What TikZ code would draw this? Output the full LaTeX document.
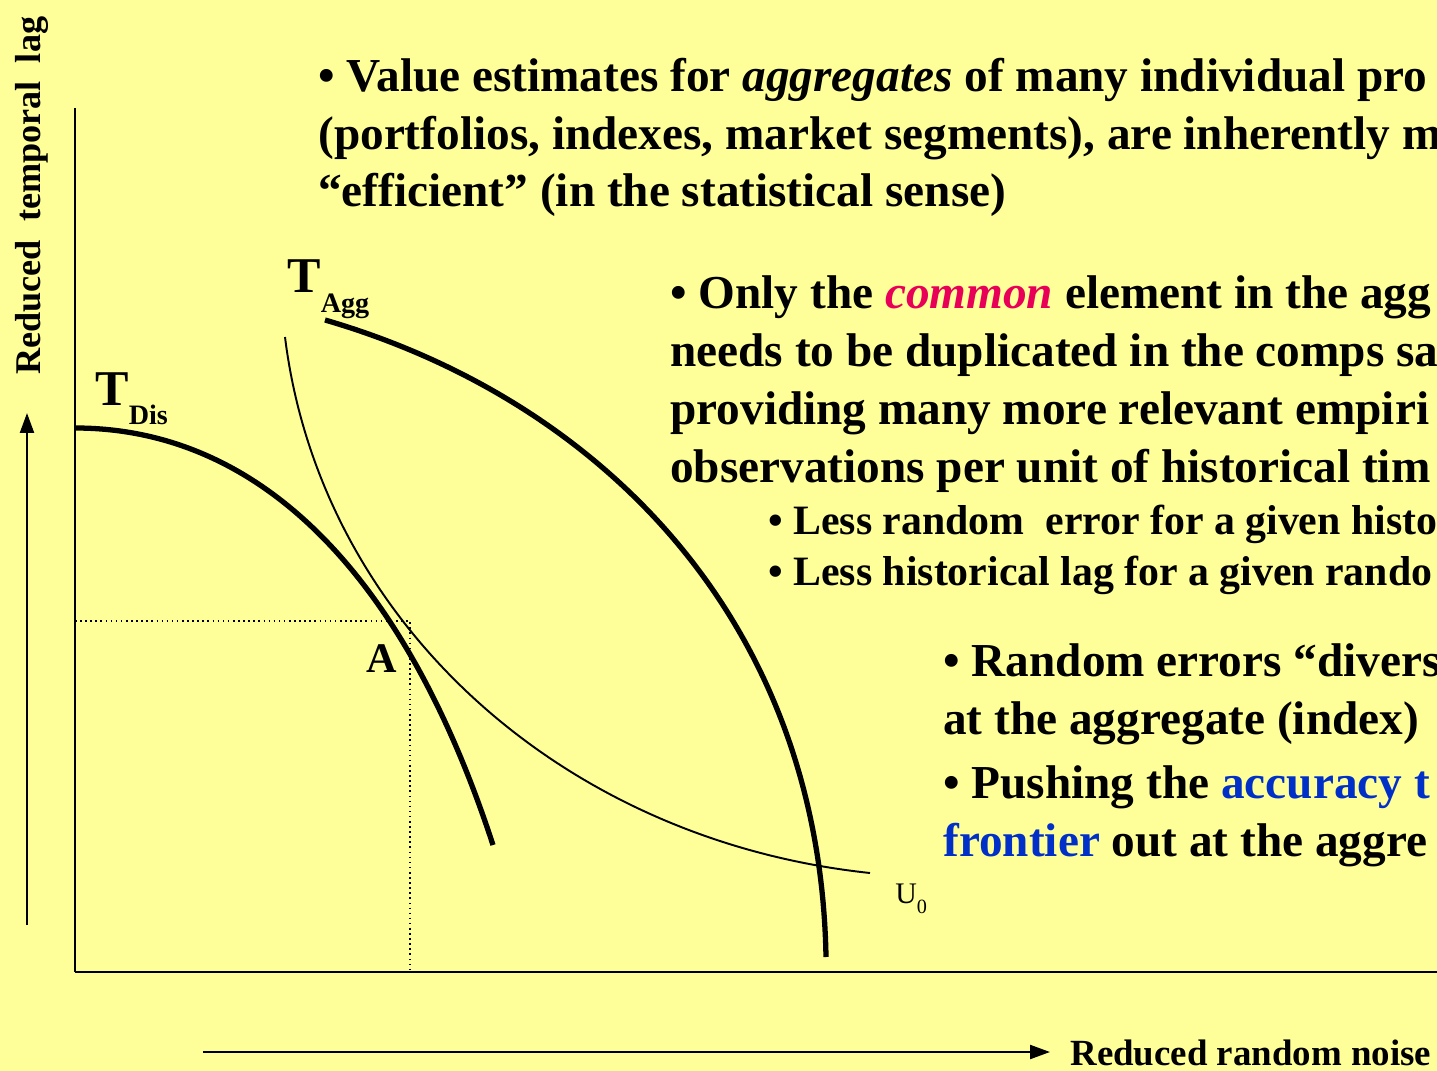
\documentclass[tikz,border=0pt]{standalone}
\usepackage{fontspec}
\setmainfont{Liberation Serif}
\usetikzlibrary{arrows.meta,positioning}
\definecolor{slideyellow}{RGB}{255,255,153}
\definecolor{slidepink}{RGB}{232,0,88}
\definecolor{slideblue}{RGB}{0,48,200}

\begin{document}
\begin{tikzpicture}[
      x=0.02cm, y=-0.02cm,
      bigtext/.style={anchor=base west, inner sep=0pt, align=left, font=\bfseries\fontsize{26.9pt}{33pt}\selectfont},
      subtext/.style={anchor=base west, inner sep=0pt, align=left, font=\bfseries\fontsize{23.8pt}{29pt}\selectfont},
      frontier/.style={line width=3pt},
      axis/.style={line width=1.1pt},
      arr/.style={-{Triangle[length=0.4cm, width=0.28cm]}, line width=1.3pt}
    ]
      % background
      \fill[slideyellow] (0,0) rectangle (1437,1071);
      \useasboundingbox (0,0) rectangle (1437,1071);
      \clip (0,0) rectangle (1437,1071);

      % axes
      \coordinate (origin) at (75,972);
      \coordinate (ytop) at (75,108);
      \coordinate (xend) at (1437,972);
      \draw[axis] (ytop) -- (origin);
      \draw[axis, line width=1.6pt] (origin) -- (xend);

      % direction arrows and their labels
      \coordinate (ystart) at (27,925);
      \coordinate (ytip) at (27,413);
      \draw[arr] (ystart) -- (ytip);
      \node[rotate=90, anchor=base west, inner sep=0pt, font=\bfseries\fontsize{20.6pt}{26pt}\selectfont] (ylabel) at (40,375) {Reduced\ \ temporal\ \ lag};

      \coordinate (xstart) at (203,1052);
      \coordinate (xtip) at (1050,1052);
      \draw[arr] (xstart) -- (xtip);
      \node[anchor=base west, inner sep=0pt, font=\bfseries\fontsize{21pt}{24pt}\selectfont] (xlabel) at (1070,1065) {Reduced random noise};

      % frontiers and indifference curve
      \draw[frontier] (75,428) .. controls (250,428) and (400,560) .. (493,845);
      \draw[frontier] (325,320) .. controls (600,400) and (820,620) .. (826,957);
      \draw[line width=1.1pt] (285,337) .. controls (320,620) and (560,840) .. (870,873);

      % point A
      \coordinate (ptA) at (410,621);
      \draw[dotted, line width=0.9pt] (origin |- ptA) -- (ptA) -- (ptA |- origin);
      \node[anchor=base west, inner sep=0pt, font=\bfseries\fontsize{24pt}{28pt}\selectfont] (labA) at (366,672) {A};

      % curve labels
      \node[anchor=base west, inner sep=0pt, font=\bfseries\fontsize{28.5pt}{30pt}\selectfont] (tdis) at (95,405)
        {T\raisebox{-11pt}{\fontsize{16pt}{18pt}\selectfont Dis}};
      \node[anchor=base west, inner sep=0pt, font=\bfseries\fontsize{28.5pt}{30pt}\selectfont] (tagg) at (287,293)
        {T\raisebox{-11pt}{\fontsize{16pt}{18pt}\selectfont Agg}};
      \node[anchor=base west, inner sep=0pt, font=\fontsize{17pt}{20pt}\selectfont] (uzero) at (895,903)
        {U\raisebox{-6pt}{\fontsize{11.5pt}{12pt}\selectfont 0}};

      % 1. aggregates
      \node[bigtext] (point1) at (318,207) {%
        • Value estimates for \textit{aggregates} of many individual pro\\
        (portfolios, indexes, market segments), are inherently m\\
        “efficient” (in the statistical sense)};

      % 2. common element
      \node[bigtext] (point2) at (670,482) {%
        • Only the \textcolor{slidepink}{\textit{common}} element in the agg\\
        needs to be duplicated in the comps sa\\
        providing many more relevant empiri\\
        observations per unit of historical tim};
      \node[subtext] (point2a) at (768,585) {%
        • Less random\ \ error for a given histo\\
        • Less historical lag for a given rando};

      % 3. diversification
      \node[bigtext] (point3) at (943,856) {%
        • Random errors “divers\\
        at the aggregate (index)\\[3pt]
        • Pushing the \textcolor{slideblue}{accuracy t}\\
        \textcolor{slideblue}{frontier} out at the aggre};
    \end{tikzpicture}
\end{document}
